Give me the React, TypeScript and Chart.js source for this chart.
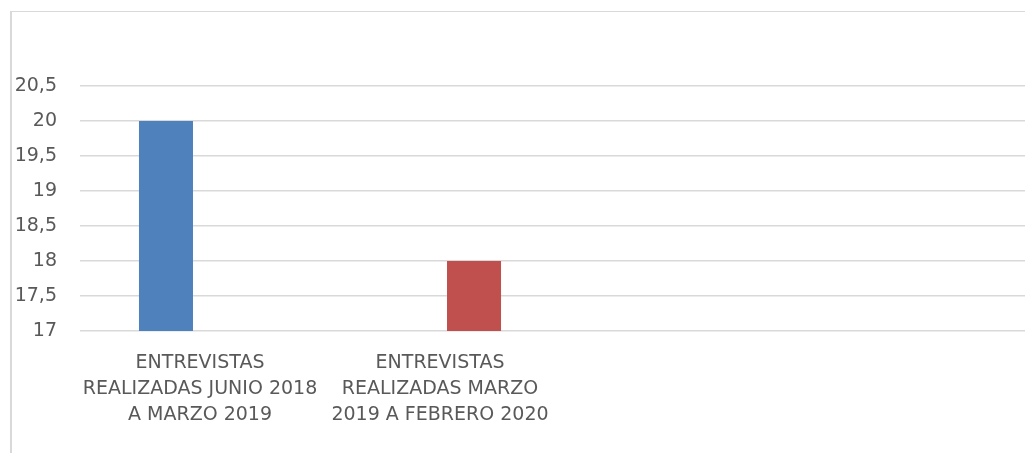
import React, { useEffect, useRef } from "react";
import { Chart, registerables } from "chart.js";

Chart.register(...registerables);

const categories: (string | string[])[] = [
  ["ENTREVISTAS", "REALIZADAS JUNIO 2018", "A MARZO 2019"],
  ["ENTREVISTAS", "REALIZADAS MARZO", "2019 A FEBRERO 2020"],
  "",
  "",
];
const series1Values: (number | null)[] = [20, null, null, null];
const series2Values: (number | null)[] = [null, 18, null, null];
const yTickLabels = ["17", "17,5", "18", "18,5", "19", "19,5", "20", "20,5"];

const FONT = "'DejaVu Sans', sans-serif";
const TEXT = "#595959";

export default function App() {
  const ref = useRef<HTMLCanvasElement | null>(null);
  useEffect(() => {
    if (!ref.current) return;
    const chart = new Chart(ref.current, {
      type: "bar",
      data: {
        labels: categories,
        datasets: [
          {
            label: "Serie 1",
            data: series1Values,
            backgroundColor: "#4f81bd",
            categoryPercentage: 0.567,
            barPercentage: 0.794,
          },
          {
            label: "Serie 2",
            data: series2Values,
            backgroundColor: "#c0504d",
            categoryPercentage: 0.567,
            barPercentage: 0.794,
          },
        ],
      },
      options: {
        responsive: false,
        animation: false,
        layout: { padding: { top: 86, left: 0, right: 0, bottom: 0 } },
        plugins: { legend: { display: false }, tooltip: { enabled: false } },
        scales: {
          x: {
            grid: { display: false, drawTicks: false },
            border: { display: false },
            ticks: {
              color: TEXT,
              font: { family: FONT, size: 19, lineHeight: 1.37 },
              padding: 19,
              maxRotation: 0,
              autoSkip: false,
            },
            afterFit: (scale: any) => {
              scale.height = 122;
            },
          },
          y: {
            min: 17,
            max: 20.5,
            grid: { color: "#d9d9d9", lineWidth: 1.5, drawTicks: false },
            border: { display: false },
            ticks: {
              stepSize: 0.5,
              color: TEXT,
              font: { family: FONT, size: 19 },
              padding: 23,
              callback: (_v: any, i: number) => yTickLabels[i],
            },
            afterFit: (scale: any) => {
              scale.width = 80;
            },
          },
        },
      },
    });
    return () => chart.destroy();
  }, []);
  return (
    <div
      style={{
        position: "fixed",
        left: 0,
        top: 0,
        width: 1025,
        height: 453,
        overflow: "hidden",
        background: "#fff",
      }}
    >
      <canvas
        ref={ref}
        width={1040}
        height={453}
        style={{ position: "absolute", left: 0, top: 0, width: 1040, height: 453 }}
      />
      <div
        style={{
          position: "absolute",
          left: 10,
          top: 11,
          width: 1100,
          height: 500,
          borderLeft: "2px solid #d9d9d9",
          borderTop: "1px solid #d9d9d9",
          pointerEvents: "none",
        }}
      />
    </div>
  );
}
